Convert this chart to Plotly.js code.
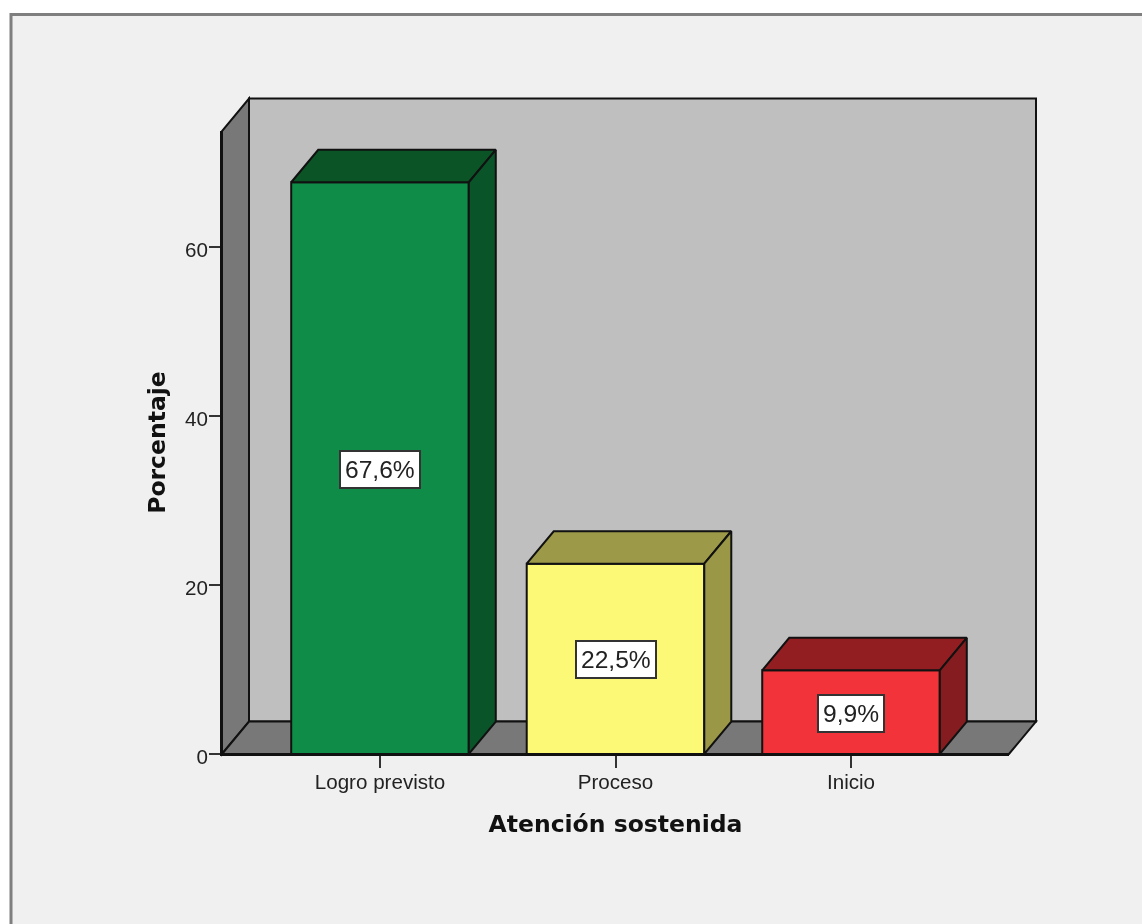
<!DOCTYPE html>
<html>
<head>
<meta charset="utf-8">
<script src="https://cdn.plot.ly/plotly-3.0.1.min.js"></script>
<style>html,body{margin:0;padding:0;background:#fff;overflow:hidden}#chart{filter:blur(0.45px)}</style>
</head>
<body>
<div id="chart" style="width:1142px;height:924px"></div>
<script>
const categories = ['Logro previsto', 'Proceso', 'Inicio'];
const percentages = [67.6, 22.5, 9.9];
const frontColors = ['#0f8c48', '#fbf976', '#f23339'];
const topColors = ['#0a5426', '#9c9a48', '#921e22'];
const sideColors = ['#0a5429', '#9a9846', '#851c1f'];
const yTicks = [0, 20, 40, 60];

const W = 1142, H = 924;
const left = 222, right = 1009, top_ = 130.7, bottom = 754.5;
const xRange = [-0.6709, 2.6709], yRange = [0, 73.66];
const barWidth = 0.754;
const depthX = 27 / (right - left), depthY = 32.5 / (bottom - top_); // as fractions of the axes
const dx = depthX * (xRange[1] - xRange[0]), dy = depthY * (yRange[1] - yRange[0]);
const positions = categories.map((_, i) => i);
const edge = {color: '#111111', width: 2};

const bars = {
  type: 'bar', x: positions, y: percentages, width: barWidth,
  marker: {color: frontColors, line: edge}, hoverinfo: 'x+y', showlegend: false
};
const faces = [];
positions.forEach((p, i) => {
  const a = p - barWidth / 2, b = p + barWidth / 2, v = percentages[i];
  faces.push({type: 'scatter', mode: 'lines', x: [a, a + dx, b + dx, b, a], y: [v, v + dy, v + dy, v, v],
    fill: 'toself', fillcolor: topColors[i], line: edge, hoverinfo: 'skip', showlegend: false});
  faces.push({type: 'scatter', mode: 'lines', x: [b, b + dx, b + dx, b, b], y: [0, dy, v + dy, v, 0],
    fill: 'toself', fillcolor: sideColors[i], line: edge, hoverinfo: 'skip', showlegend: false});
});

const paperShape = (extra) => Object.assign({xref: 'paper', yref: 'paper', layer: 'below'}, extra);
const px = (v) => (v - left) / (right - left);
const py = (v) => (bottom - v) / (bottom - top_);
const wallLine = {color: '#111111', width: 2};
const shapes = [
  paperShape({type: 'rect', x0: px(11), x1: px(W + 20), y0: py(H + 20), y1: py(14),
    fillcolor: '#f0f0f0', line: {color: '#7f7f7f', width: 3}}),
  paperShape({type: 'rect', x0: depthX, x1: 1 + depthX, y0: depthY, y1: 1 + depthY,
    fillcolor: '#bfbfbf', line: wallLine}),
  paperShape({type: 'path', path: `M 0 0 L ${depthX} ${depthY} L ${depthX} ${1 + depthY} L 0 1 Z`,
    fillcolor: '#787878', line: wallLine}),
  paperShape({type: 'path', path: `M 0 0 L ${depthX} ${depthY} L ${1 + depthX} ${depthY} L 1 0 Z`,
    fillcolor: '#787878', line: wallLine})
];

const annotations = positions.map((p, i) => ({
  x: p, y: percentages[i] / 2, xref: 'x', yref: 'y', showarrow: false, yshift: -1,
  text: percentages[i].toFixed(1).replace('.', ',') + '%',
  font: {family: 'Liberation Sans', size: 24.6, color: '#222222'},
  bgcolor: '#ffffff', bordercolor: '#333333', borderwidth: 2, borderpad: 4
}));

const layout = {
  width: W, height: H,
  margin: {l: left, r: W - right, t: top_, b: H - bottom, pad: 0},
  paper_bgcolor: '#ffffff', plot_bgcolor: 'rgba(0,0,0,0)',
  font: {family: 'Liberation Sans', color: '#222222'},
  showlegend: false,
  xaxis: {
    range: xRange, tickmode: 'array', tickvals: positions, ticktext: categories,
    ticks: 'outside', ticklen: 12, tickwidth: 2, tickcolor: '#333333',
    tickfont: {family: 'Liberation Sans', size: 20.6, color: '#222222'}, ticklabelstandoff: -4,
    showgrid: false, zeroline: false, showline: true, linecolor: '#111111', linewidth: 2,
    title: {text: 'Atención sostenida', font: {family: 'DejaVu Sans', size: 23.5, color: '#111111', weight: 'bold'}, standoff: 24}
  },
  yaxis: {
    range: yRange, tickmode: 'array', tickvals: yTicks,
    ticks: 'outside', ticklen: 11, tickwidth: 2, tickcolor: '#333333',
    tickfont: {family: 'Liberation Sans', size: 20.6, color: '#222222'}, ticklabelstandoff: -3, ticklabelshift: 3,
    showgrid: false, zeroline: false, showline: true, linecolor: '#111111', linewidth: 2,
    title: {text: 'Porcentaje', font: {family: 'DejaVu Sans', size: 23.5, color: '#111111', weight: 'bold'}, standoff: 13}
  },
  shapes, annotations
};
Plotly.newPlot('chart', [bars, ...faces], layout, {displayModeBar: false, responsive: false});
</script>
</body>
</html>
